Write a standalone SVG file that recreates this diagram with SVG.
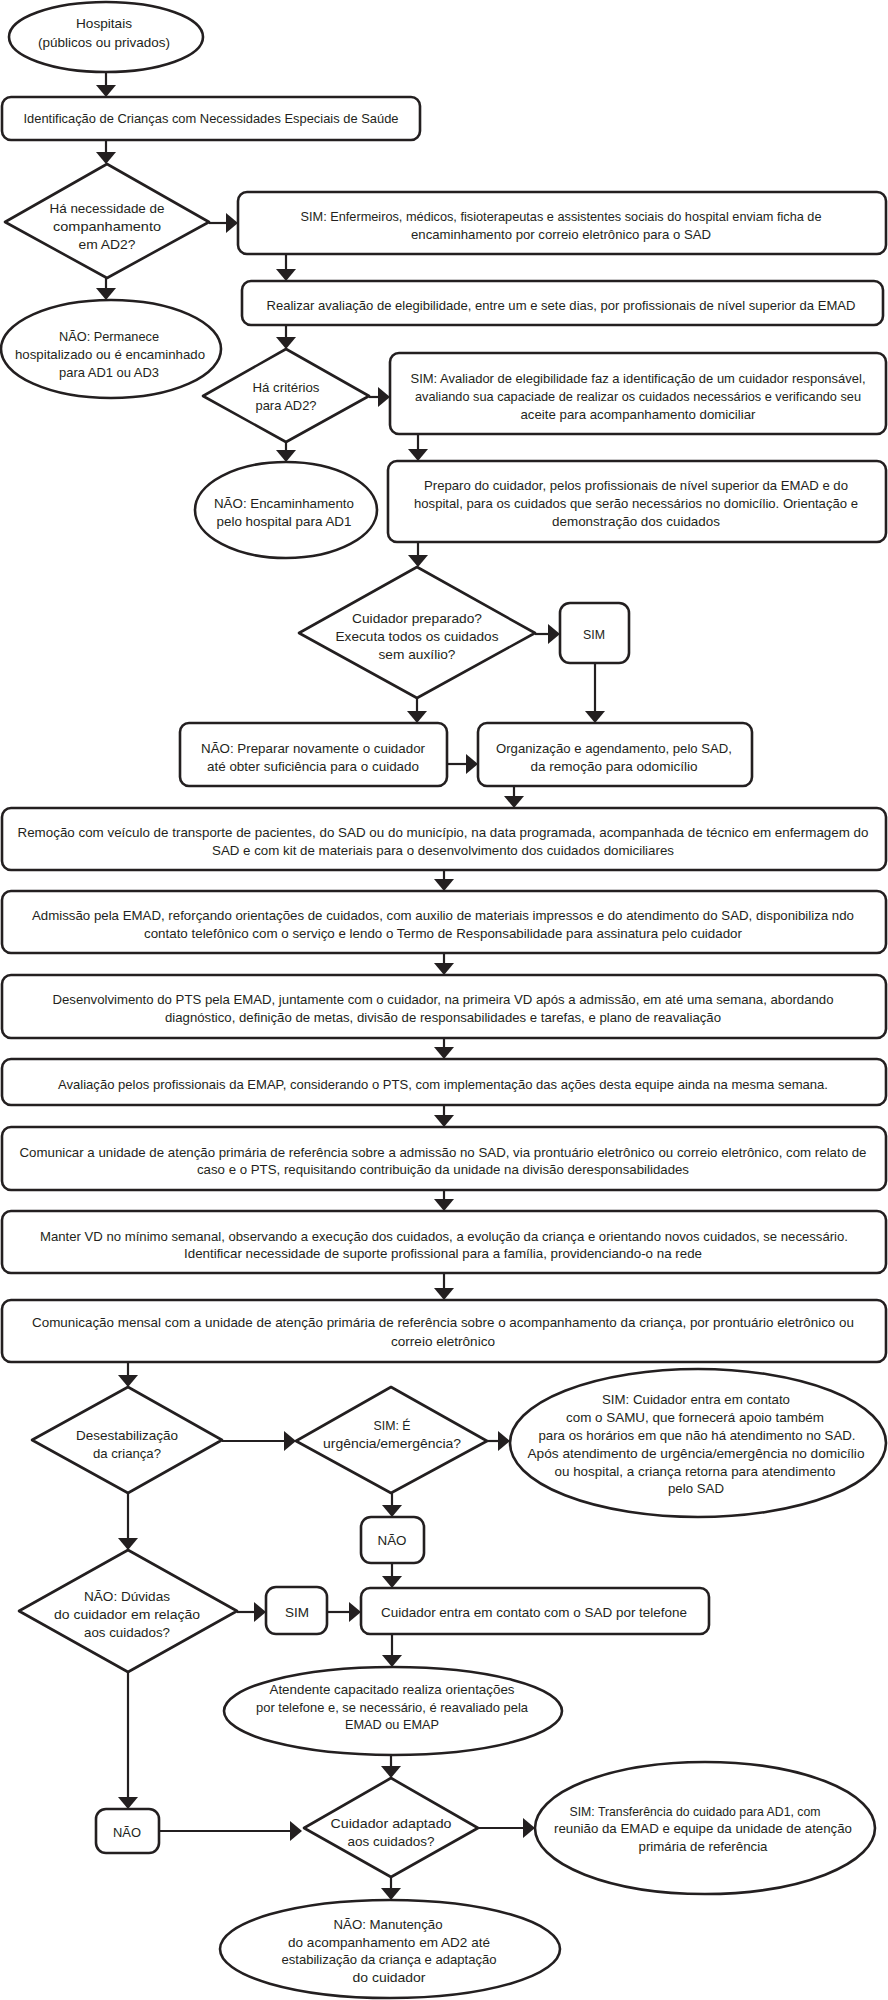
<svg xmlns="http://www.w3.org/2000/svg" width="888" height="2000" viewBox="0 0 888 2000">
<style>
.n{fill:#fff;stroke:#231f20;stroke-width:2.6;stroke-linejoin:round}
.t{font-family:"Liberation Sans",Arial,sans-serif;font-size:13.5px;fill:#231f20;text-anchor:middle}
.c{stroke:#231f20;stroke-width:2.2;fill:none;marker-end:url(#ah)}
</style>
<defs>
<marker id="ah" markerUnits="userSpaceOnUse" viewBox="0 0 12 20" markerWidth="12" markerHeight="20" refX="8" refY="10" orient="auto"><path d="M0,0 L12,10 L0,20 z" fill="#231f20"/></marker>
</defs>
<rect width="888" height="2000" fill="#fff"/>
<g id="connectors">
<line class="c" x1="106" y1="72" x2="106" y2="93"/>
<line class="c" x1="106" y1="140" x2="106" y2="160"/>
<line class="c" x1="209" y1="223" x2="234" y2="223"/>
<line class="c" x1="286" y1="254" x2="286" y2="277"/>
<line class="c" x1="106" y1="278" x2="106" y2="296"/>
<line class="c" x1="286" y1="325" x2="286" y2="345"/>
<line class="c" x1="369" y1="397" x2="386" y2="397"/>
<line class="c" x1="418" y1="434" x2="418" y2="457"/>
<line class="c" x1="286" y1="442" x2="286" y2="458"/>
<line class="c" x1="418" y1="542" x2="418" y2="563"/>
<line class="c" x1="535" y1="634" x2="556" y2="634"/>
<line class="c" x1="595" y1="663" x2="595" y2="719"/>
<line class="c" x1="417" y1="698" x2="417" y2="719"/>
<line class="c" x1="447" y1="764" x2="474" y2="764"/>
<line class="c" x1="514" y1="786" x2="514" y2="804"/>
<line class="c" x1="444" y1="870" x2="444" y2="887"/>
<line class="c" x1="444" y1="953" x2="444" y2="971"/>
<line class="c" x1="444" y1="1038" x2="444" y2="1055"/>
<line class="c" x1="444" y1="1105" x2="444" y2="1123"/>
<line class="c" x1="444" y1="1190" x2="444" y2="1207"/>
<line class="c" x1="444" y1="1273" x2="444" y2="1296"/>
<line class="c" x1="128" y1="1362" x2="128" y2="1383"/>
<line class="c" x1="222" y1="1441" x2="292" y2="1441"/>
<line class="c" x1="487" y1="1441" x2="506" y2="1441"/>
<line class="c" x1="392" y1="1493" x2="392" y2="1513"/>
<line class="c" x1="392" y1="1563" x2="392" y2="1584"/>
<line class="c" x1="128" y1="1493" x2="128" y2="1546"/>
<line class="c" x1="237" y1="1612" x2="262" y2="1612"/>
<line class="c" x1="327" y1="1612" x2="357" y2="1612"/>
<line class="c" x1="392" y1="1634" x2="392" y2="1663"/>
<line class="c" x1="391" y1="1755" x2="391" y2="1774"/>
<line class="c" x1="478" y1="1828" x2="531" y2="1828"/>
<line class="c" x1="128" y1="1672" x2="128" y2="1805"/>
<line class="c" x1="159" y1="1831" x2="298" y2="1831"/>
<line class="c" x1="391" y1="1877" x2="391" y2="1896"/>
</g>
<g id="n1"><ellipse class="n" cx="106" cy="37" rx="97" ry="35"/>
<text class="t" x="104" y="28" textLength="56" lengthAdjust="spacingAndGlyphs">Hospitais</text>
<text class="t" x="104" y="47" textLength="132" lengthAdjust="spacingAndGlyphs">(públicos ou privados)</text></g>
<g id="n2"><rect class="n" x="2" y="97" width="418" height="43" rx="9"/>
<text class="t" x="211" y="123" textLength="375" lengthAdjust="spacingAndGlyphs">Identificação de Crianças com Necessidades Especiais de Saúde</text></g>
<g id="n3"><polygon class="n" points="107,164 209,222 107,278 5,222"/>
<text class="t" x="107" y="213" textLength="115" lengthAdjust="spacingAndGlyphs">Há necessidade de</text>
<text class="t" x="107" y="231" textLength="108" lengthAdjust="spacingAndGlyphs">companhamento</text>
<text class="t" x="107" y="249" textLength="57" lengthAdjust="spacingAndGlyphs">em AD2?</text></g>
<g id="n4"><rect class="n" x="238" y="192" width="648" height="62" rx="9"/>
<text class="t" x="561" y="221" textLength="521" lengthAdjust="spacingAndGlyphs">SIM: Enfermeiros, médicos, fisioterapeutas e assistentes sociais do hospital enviam ficha de</text>
<text class="t" x="561" y="239" textLength="300" lengthAdjust="spacingAndGlyphs">encaminhamento por correio eletrônico para o SAD</text></g>
<g id="n5"><rect class="n" x="242" y="281" width="641" height="44" rx="9"/>
<text class="t" x="561" y="310" textLength="589" lengthAdjust="spacingAndGlyphs">Realizar avaliação de elegibilidade, entre um e sete dias, por profissionais de nível superior da EMAD</text></g>
<g id="n6"><ellipse class="n" cx="111" cy="349" rx="110" ry="49"/>
<text class="t" x="109" y="341" textLength="100" lengthAdjust="spacingAndGlyphs">NÃO: Permanece</text>
<text class="t" x="110" y="359" textLength="190" lengthAdjust="spacingAndGlyphs">hospitalizado ou é encaminhado</text>
<text class="t" x="109" y="377" textLength="100" lengthAdjust="spacingAndGlyphs">para AD1 ou AD3</text></g>
<g id="n7"><polygon class="n" points="286,349 369,396 286,442 203,396"/>
<text class="t" x="286" y="392" textLength="67" lengthAdjust="spacingAndGlyphs">Há critérios</text>
<text class="t" x="286" y="410" textLength="61" lengthAdjust="spacingAndGlyphs">para AD2?</text></g>
<g id="n8"><rect class="n" x="390" y="353" width="496" height="81" rx="9"/>
<text class="t" x="638" y="383" textLength="455" lengthAdjust="spacingAndGlyphs">SIM: Avaliador de elegibilidade faz a identificação de um cuidador responsável,</text>
<text class="t" x="638" y="401" textLength="446" lengthAdjust="spacingAndGlyphs">avaliando sua capaciade de realizar os cuidados necessários e verificando seu</text>
<text class="t" x="638" y="419" textLength="235" lengthAdjust="spacingAndGlyphs">aceite para acompanhamento domiciliar</text></g>
<g id="n9"><rect class="n" x="388" y="461" width="498" height="81" rx="9"/>
<text class="t" x="636" y="490" textLength="424" lengthAdjust="spacingAndGlyphs">Preparo do cuidador, pelos profissionais de nível superior da EMAD e do</text>
<text class="t" x="636" y="508" textLength="444" lengthAdjust="spacingAndGlyphs">hospital, para os cuidados que serão necessários no domicílio. Orientação e</text>
<text class="t" x="636" y="526" textLength="168" lengthAdjust="spacingAndGlyphs">demonstração dos cuidados</text></g>
<g id="n10"><ellipse class="n" cx="286" cy="510" rx="91" ry="48"/>
<text class="t" x="284" y="508" textLength="140" lengthAdjust="spacingAndGlyphs">NÃO: Encaminhamento</text>
<text class="t" x="284" y="526" textLength="135" lengthAdjust="spacingAndGlyphs">pelo hospital para AD1</text></g>
<g id="n11"><polygon class="n" points="417,567 535,633 417,698 299,633"/>
<text class="t" x="417" y="623" textLength="130" lengthAdjust="spacingAndGlyphs">Cuidador preparado?</text>
<text class="t" x="417" y="641" textLength="163" lengthAdjust="spacingAndGlyphs">Executa todos os cuidados</text>
<text class="t" x="417" y="659" textLength="77" lengthAdjust="spacingAndGlyphs">sem auxílio?</text></g>
<g id="n12"><rect class="n" x="560" y="603" width="69" height="60" rx="10"/>
<text class="t" x="594" y="639" textLength="22" lengthAdjust="spacingAndGlyphs">SIM</text></g>
<g id="n13"><rect class="n" x="180" y="723" width="267" height="63" rx="9"/>
<text class="t" x="313" y="753" textLength="224" lengthAdjust="spacingAndGlyphs">NÃO: Preparar novamente o cuidador</text>
<text class="t" x="313" y="771" textLength="212" lengthAdjust="spacingAndGlyphs">até obter suficiência para o cuidado</text></g>
<g id="n14"><rect class="n" x="478" y="723" width="274" height="63" rx="9"/>
<text class="t" x="614" y="753" textLength="236" lengthAdjust="spacingAndGlyphs">Organização e agendamento, pelo SAD,</text>
<text class="t" x="614" y="771" textLength="167" lengthAdjust="spacingAndGlyphs">da remoção para odomicílio</text></g>
<g id="n15"><rect class="n" x="2" y="808" width="884" height="62" rx="9"/>
<text class="t" x="443" y="837" textLength="851" lengthAdjust="spacingAndGlyphs">Remoção com veículo de transporte de pacientes, do SAD ou do município, na data programada, acompanhada de técnico em enfermagem do</text>
<text class="t" x="443" y="855" textLength="462" lengthAdjust="spacingAndGlyphs">SAD e com kit de materiais para o desenvolvimento dos cuidados domiciliares</text></g>
<g id="n16"><rect class="n" x="2" y="891" width="884" height="62" rx="9"/>
<text class="t" x="443" y="920" textLength="822" lengthAdjust="spacingAndGlyphs">Admissão pela EMAD, reforçando orientações de cuidados, com auxilio de materiais impressos e do atendimento do SAD, disponibiliza ndo</text>
<text class="t" x="443" y="938" textLength="598" lengthAdjust="spacingAndGlyphs">contato telefônico com o serviço e lendo o Termo de Responsabilidade para assinatura pelo cuidador</text></g>
<g id="n17"><rect class="n" x="2" y="975" width="884" height="63" rx="9"/>
<text class="t" x="443" y="1004" textLength="781" lengthAdjust="spacingAndGlyphs">Desenvolvimento do PTS pela EMAD, juntamente com o cuidador, na primeira VD após a admissão, em até uma semana, abordando</text>
<text class="t" x="443" y="1022" textLength="556" lengthAdjust="spacingAndGlyphs">diagnóstico, definição de metas, divisão de responsabilidades e tarefas, e plano de reavaliação</text></g>
<g id="n18"><rect class="n" x="2" y="1059" width="884" height="46" rx="9"/>
<text class="t" x="443" y="1089" textLength="770" lengthAdjust="spacingAndGlyphs">Avaliação pelos profissionais da EMAP, considerando o PTS, com implementação das ações desta equipe ainda na mesma semana.</text></g>
<g id="n19"><rect class="n" x="2" y="1127" width="884" height="63" rx="9"/>
<text class="t" x="443" y="1157" textLength="847" lengthAdjust="spacingAndGlyphs">Comunicar a unidade de atenção primária de referência sobre a admissão no SAD, via prontuário eletrônico ou correio eletrônico, com relato de</text>
<text class="t" x="443" y="1174" textLength="492" lengthAdjust="spacingAndGlyphs">caso e o PTS, requisitando contribuição da unidade na divisão deresponsabilidades</text></g>
<g id="n20"><rect class="n" x="2" y="1211" width="884" height="62" rx="9"/>
<text class="t" x="444" y="1241" textLength="808" lengthAdjust="spacingAndGlyphs">Manter VD no mínimo semanal, observando a execução dos cuidados, a evolução da criança e orientando novos cuidados, se necessário.</text>
<text class="t" x="443" y="1258" textLength="518" lengthAdjust="spacingAndGlyphs">Identificar necessidade de suporte profissional para a família, providenciando-o na rede</text></g>
<g id="n21"><rect class="n" x="2" y="1300" width="884" height="62" rx="9"/>
<text class="t" x="443" y="1327" textLength="822" lengthAdjust="spacingAndGlyphs">Comunicação mensal com a unidade de atenção primária de referência sobre o acompanhamento da criança, por prontuário eletrônico ou</text>
<text class="t" x="443" y="1346" textLength="104" lengthAdjust="spacingAndGlyphs">correio eletrônico</text></g>
<g id="n22"><polygon class="n" points="128,1387 222,1440 128,1493 32,1440"/>
<text class="t" x="127" y="1440" textLength="102" lengthAdjust="spacingAndGlyphs">Desestabilização</text>
<text class="t" x="127" y="1458" textLength="68" lengthAdjust="spacingAndGlyphs">da criança?</text></g>
<g id="n23"><polygon class="n" points="391,1387 487,1441 391,1493 296,1441"/>
<text class="t" x="392" y="1430" textLength="37" lengthAdjust="spacingAndGlyphs">SIM: É</text>
<text class="t" x="392" y="1448" textLength="138" lengthAdjust="spacingAndGlyphs">urgência/emergência?</text></g>
<g id="n24"><ellipse class="n" cx="698" cy="1443" rx="188" ry="74"/>
<text class="t" x="696" y="1404" textLength="188" lengthAdjust="spacingAndGlyphs">SIM: Cuidador entra em contato</text>
<text class="t" x="695" y="1422" textLength="258" lengthAdjust="spacingAndGlyphs">com o SAMU, que fornecerá apoio também</text>
<text class="t" x="697" y="1440" textLength="317" lengthAdjust="spacingAndGlyphs">para os horários em que não há atendimento no SAD.</text>
<text class="t" x="696" y="1458" textLength="337" lengthAdjust="spacingAndGlyphs">Após atendimento de urgência/emergência no domicílio</text>
<text class="t" x="695" y="1476" textLength="281" lengthAdjust="spacingAndGlyphs">ou hospital, a criança retorna para atendimento</text>
<text class="t" x="696" y="1493" textLength="56" lengthAdjust="spacingAndGlyphs">pelo SAD</text></g>
<g id="n25"><rect class="n" x="361" y="1517" width="63" height="46" rx="10"/>
<text class="t" x="392" y="1545" textLength="29" lengthAdjust="spacingAndGlyphs">NÃO</text></g>
<g id="n26"><rect class="n" x="361" y="1588" width="348" height="46" rx="9"/>
<text class="t" x="534" y="1617" textLength="306" lengthAdjust="spacingAndGlyphs">Cuidador entra em contato com o SAD por telefone</text></g>
<g id="n27"><polygon class="n" points="128,1550 237,1611 128,1672 19,1611"/>
<text class="t" x="127" y="1601" textLength="86" lengthAdjust="spacingAndGlyphs">NÃO: Dúvidas</text>
<text class="t" x="127" y="1619" textLength="146" lengthAdjust="spacingAndGlyphs">do cuidador em relação</text>
<text class="t" x="127" y="1637" textLength="86" lengthAdjust="spacingAndGlyphs">aos cuidados?</text></g>
<g id="n28"><rect class="n" x="266" y="1587" width="61" height="47" rx="10"/>
<text class="t" x="297" y="1617" textLength="24" lengthAdjust="spacingAndGlyphs">SIM</text></g>
<g id="n29"><ellipse class="n" cx="393" cy="1711" rx="169" ry="44"/>
<text class="t" x="392" y="1694" textLength="245" lengthAdjust="spacingAndGlyphs">Atendente capacitado realiza orientações</text>
<text class="t" x="392" y="1712" textLength="272" lengthAdjust="spacingAndGlyphs">por telefone e, se necessário, é reavaliado pela</text>
<text class="t" x="392" y="1729" textLength="94" lengthAdjust="spacingAndGlyphs">EMAD ou EMAP</text></g>
<g id="n30"><polygon class="n" points="391,1778 478,1828 391,1877 304,1828"/>
<text class="t" x="391" y="1828" textLength="121" lengthAdjust="spacingAndGlyphs">Cuidador adaptado</text>
<text class="t" x="391" y="1846" textLength="87" lengthAdjust="spacingAndGlyphs">aos cuidados?</text></g>
<g id="n31"><ellipse class="n" cx="705" cy="1828" rx="170" ry="66"/>
<text class="t" x="695" y="1816" textLength="251" lengthAdjust="spacingAndGlyphs">SIM: Transferência do cuidado para AD1, com</text>
<text class="t" x="703" y="1833" textLength="298" lengthAdjust="spacingAndGlyphs">reunião da EMAD e equipe da unidade de atenção</text>
<text class="t" x="703" y="1851" textLength="129" lengthAdjust="spacingAndGlyphs">primária de referência</text></g>
<g id="n32"><rect class="n" x="96" y="1809" width="63" height="44" rx="10"/>
<text class="t" x="127" y="1837" textLength="28" lengthAdjust="spacingAndGlyphs">NÃO</text></g>
<g id="n33"><ellipse class="n" cx="390" cy="1949" rx="170" ry="49"/>
<text class="t" x="388" y="1929" textLength="109" lengthAdjust="spacingAndGlyphs">NÃO: Manutenção</text>
<text class="t" x="389" y="1947" textLength="202" lengthAdjust="spacingAndGlyphs">do acompanhamento em AD2 até</text>
<text class="t" x="389" y="1964" textLength="215" lengthAdjust="spacingAndGlyphs">estabilização da criança e adaptação</text>
<text class="t" x="389" y="1982" textLength="73" lengthAdjust="spacingAndGlyphs">do cuidador</text></g>
</svg>
